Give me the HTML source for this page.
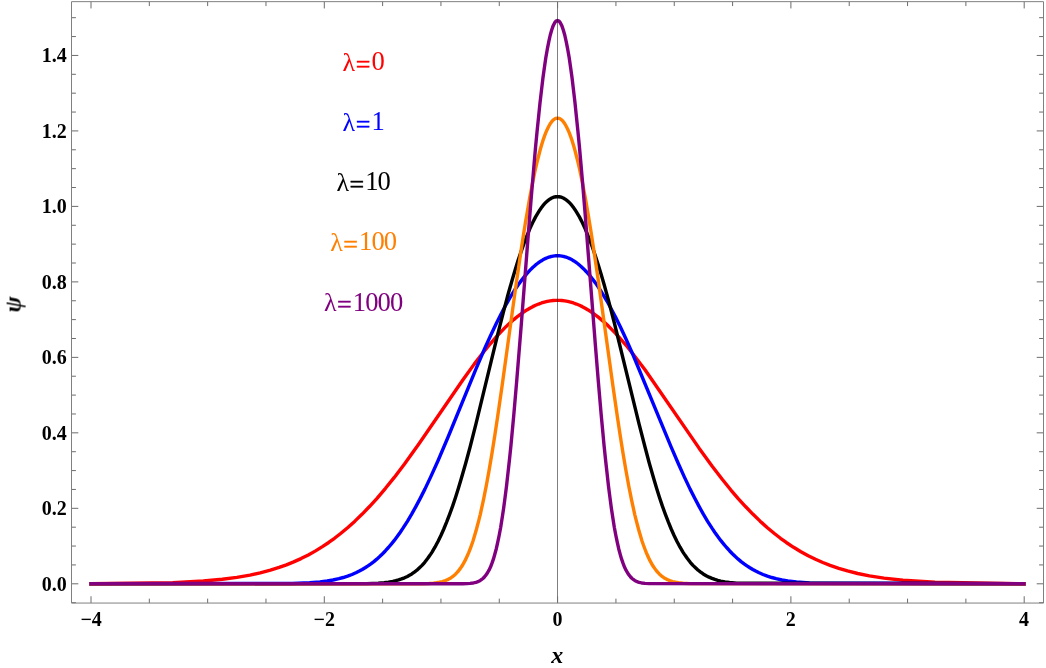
<!DOCTYPE html>
<html><head><meta charset="utf-8"><title>psi(x) for anharmonic oscillator</title>
<style>
html,body{margin:0;padding:0;background:#fff;width:1046px;height:668px;overflow:hidden;font-family:"Liberation Serif",serif}
</style></head><body>
<svg width="1046" height="668" viewBox="0 0 1046 668" style="position:absolute;left:0;top:0;font-family:'Liberation Serif',serif">
<rect x="0" y="0" width="1046" height="668" fill="#ffffff"/>
<g>
<path d="M91.1,583.70 L172.7,582.58 L203.3,580.99 L222.3,579.25 L236.9,577.34 L250.0,575.05 L260.2,572.82 L270.4,570.13 L279.1,567.40 L286.4,564.80 L293.7,561.87 L301.0,558.59 L308.3,554.93 L315.6,550.87 L322.8,546.39 L328.7,542.48 L334.5,538.27 L340.3,533.77 L347.6,527.70 L354.9,521.14 L362.2,514.09 L369.5,506.55 L376.8,498.53 L385.5,488.28 L394.3,477.41 L404.5,464.00 L419.0,443.74 L462.8,380.02 L474.4,363.87 L483.2,352.45 L490.5,343.52 L496.3,336.82 L500.7,332.09 L505.0,327.62 L509.4,323.45 L513.8,319.57 L518.1,316.02 L521.1,313.83 L524.0,311.80 L526.9,309.93 L529.8,308.21 L532.7,306.65 L535.6,305.26 L538.6,304.04 L541.5,302.99 L544.4,302.11 L547.3,301.41 L550.2,300.88 L553.1,300.52 L556.0,300.35 L559.0,300.35 L561.9,300.52 L564.8,300.88 L567.7,301.41 L570.6,302.11 L573.5,302.99 L576.4,304.04 L579.4,305.26 L582.3,306.65 L585.2,308.21 L588.1,309.93 L591.0,311.80 L593.9,313.83 L598.3,317.17 L602.7,320.83 L607.1,324.80 L611.4,329.08 L615.8,333.63 L621.6,340.12 L627.5,347.02 L634.7,356.18 L645.0,369.82 L698.9,447.88 L712.0,465.96 L722.2,479.26 L730.9,490.03 L738.2,498.53 L745.5,506.55 L752.8,514.09 L760.1,521.14 L767.4,527.70 L774.7,533.77 L780.5,538.27 L786.3,542.48 L793.6,547.32 L800.9,551.72 L808.2,555.70 L815.5,559.28 L822.8,562.49 L830.1,565.35 L838.8,568.36 L847.5,570.95 L857.7,573.50 L869.4,575.88 L884.0,578.18 L902.9,580.28 L935.0,582.30 L1023.9,583.70" fill="none" stroke="#ff0000" stroke-width="3.4" stroke-linecap="square" stroke-linejoin="round"/>
<path d="M91.1,583.80 L292.2,583.46 L309.7,582.75 L319.9,581.90 L327.2,580.97 L333.0,579.97 L338.9,578.69 L343.2,577.51 L347.6,576.11 L352.0,574.47 L356.4,572.55 L359.3,571.10 L362.2,569.52 L365.1,567.78 L368.0,565.88 L370.9,563.82 L373.9,561.58 L376.8,559.15 L379.7,556.54 L382.6,553.73 L385.5,550.72 L388.4,547.50 L391.3,544.07 L394.3,540.42 L397.2,536.55 L400.1,532.47 L403.0,528.17 L407.4,521.30 L411.8,513.94 L416.1,506.12 L420.5,497.83 L424.9,489.11 L430.7,476.87 L438.0,460.68 L448.2,436.74 L475.9,369.20 L484.6,348.78 L490.5,335.81 L496.3,323.50 L500.7,314.76 L505.0,306.50 L509.4,298.75 L512.3,293.89 L515.2,289.28 L518.1,284.94 L521.1,280.88 L524.0,277.10 L526.9,273.60 L529.8,270.41 L532.7,267.51 L535.6,264.93 L537.1,263.75 L538.6,262.65 L540.0,261.64 L541.5,260.70 L542.9,259.84 L544.4,259.06 L545.8,258.37 L547.3,257.75 L548.8,257.22 L550.2,256.76 L551.7,256.39 L553.1,256.11 L554.6,255.90 L556.0,255.78 L557.5,255.73 L559.0,255.78 L560.4,255.90 L561.9,256.11 L563.3,256.39 L564.8,256.76 L566.2,257.22 L567.7,257.75 L569.2,258.37 L570.6,259.06 L572.1,259.84 L573.5,260.70 L575.0,261.64 L576.4,262.65 L577.9,263.75 L580.8,266.18 L583.7,268.92 L586.6,271.97 L589.6,275.31 L592.5,278.95 L595.4,282.88 L598.3,287.08 L601.2,291.55 L604.1,296.29 L607.1,301.27 L611.4,309.19 L615.8,317.62 L620.2,326.51 L626.0,339.00 L633.3,355.48 L671.2,447.15 L678.5,463.99 L684.3,476.87 L690.1,489.11 L694.5,497.83 L698.9,506.12 L703.2,513.94 L707.6,521.30 L712.0,528.17 L714.9,532.47 L717.8,536.55 L720.7,540.42 L723.7,544.07 L726.6,547.50 L729.5,550.72 L732.4,553.73 L735.3,556.54 L738.2,559.15 L741.1,561.58 L744.1,563.82 L747.0,565.88 L749.9,567.78 L752.8,569.52 L755.7,571.10 L758.6,572.55 L763.0,574.47 L767.4,576.11 L771.8,577.51 L776.1,578.69 L782.0,579.97 L787.8,580.97 L796.5,582.05 L809.6,583.00 L1023.9,583.80" fill="none" stroke="#0000ff" stroke-width="3.4" stroke-linecap="square" stroke-linejoin="round"/>
<path d="M91.1,583.80 L366.6,583.59 L378.2,583.13 L384.1,582.65 L388.4,582.10 L392.8,581.35 L395.7,580.71 L398.6,579.92 L401.5,578.96 L404.5,577.82 L407.4,576.46 L410.3,574.86 L411.8,573.95 L413.2,572.97 L414.7,571.92 L416.1,570.78 L417.6,569.56 L419.0,568.26 L420.5,566.85 L422.0,565.36 L423.4,563.76 L424.9,562.05 L426.3,560.24 L427.8,558.32 L429.2,556.29 L430.7,554.13 L432.2,551.85 L433.6,549.45 L435.1,546.93 L436.5,544.27 L438.0,541.48 L440.9,535.51 L443.8,528.99 L446.7,521.92 L449.6,514.31 L452.6,506.16 L455.5,497.47 L458.4,488.27 L461.3,478.59 L465.7,463.22 L470.1,446.96 L475.9,424.15 L497.7,334.32 L503.6,311.36 L507.9,294.96 L512.3,279.45 L515.2,269.67 L518.1,260.38 L521.1,251.63 L524.0,243.44 L526.9,235.85 L528.4,232.29 L529.8,228.88 L531.3,225.63 L532.7,222.54 L534.2,219.62 L535.6,216.87 L537.1,214.29 L538.6,211.87 L540.0,209.63 L541.5,207.57 L542.9,205.67 L544.4,203.96 L545.8,202.42 L547.3,201.07 L548.8,199.89 L550.2,198.89 L551.7,198.07 L553.1,197.43 L554.6,196.98 L556.0,196.71 L557.5,196.61 L559.0,196.71 L560.4,196.98 L561.9,197.43 L563.3,198.07 L564.8,198.89 L566.2,199.89 L567.7,201.07 L569.2,202.42 L570.6,203.96 L572.1,205.67 L573.5,207.57 L575.0,209.63 L576.4,211.87 L577.9,214.29 L579.4,216.87 L580.8,219.62 L582.3,222.54 L583.7,225.63 L585.2,228.88 L586.6,232.29 L589.6,239.57 L592.5,247.47 L595.4,255.94 L598.3,264.96 L601.2,274.50 L604.1,284.51 L608.5,300.34 L614.3,322.71 L639.1,424.15 L645.0,446.96 L649.3,463.22 L653.7,478.59 L656.6,488.27 L659.5,497.47 L662.4,506.16 L665.4,514.31 L668.3,521.92 L671.2,528.99 L674.1,535.51 L677.0,541.48 L678.5,544.27 L679.9,546.93 L681.4,549.45 L682.8,551.85 L684.3,554.13 L685.8,556.29 L687.2,558.32 L688.7,560.24 L690.1,562.05 L691.6,563.76 L693.0,565.36 L694.5,566.85 L696.0,568.26 L697.4,569.56 L698.9,570.78 L700.3,571.92 L701.8,572.97 L703.2,573.95 L706.2,575.69 L709.1,577.17 L712.0,578.42 L714.9,579.46 L717.8,580.33 L720.7,581.05 L725.1,581.88 L729.5,582.49 L736.8,583.13 L1023.9,583.80" fill="none" stroke="#000000" stroke-width="3.4" stroke-linecap="square" stroke-linejoin="round"/>
<path d="M91.1,583.80 L422.0,583.69 L429.2,583.44 L433.6,583.12 L436.5,582.77 L439.4,582.28 L442.4,581.59 L443.8,581.15 L445.3,580.65 L446.7,580.05 L448.2,579.37 L449.6,578.59 L451.1,577.68 L452.6,576.66 L454.0,575.49 L455.5,574.16 L456.9,572.67 L458.4,571.00 L459.8,569.13 L461.3,567.04 L462.8,564.73 L464.2,562.17 L465.7,559.36 L467.1,556.27 L468.6,552.90 L470.1,549.23 L471.5,545.25 L473.0,540.95 L474.4,536.31 L475.9,531.34 L477.3,526.02 L478.8,520.35 L480.3,514.32 L481.7,507.95 L483.2,501.21 L484.6,494.13 L486.1,486.70 L489.0,470.84 L491.9,453.71 L494.8,435.45 L497.7,416.19 L502.1,385.84 L515.2,290.89 L519.6,260.45 L522.5,241.10 L525.4,222.72 L528.4,205.48 L529.8,197.34 L531.3,189.53 L532.7,182.07 L534.2,174.97 L535.6,168.25 L537.1,161.92 L538.6,155.99 L540.0,150.46 L541.5,145.35 L542.9,140.67 L544.4,136.41 L545.8,132.59 L547.3,129.21 L548.8,126.27 L550.2,123.77 L551.7,121.73 L553.1,120.14 L554.6,119.00 L556.0,118.32 L557.5,118.09 L559.0,118.32 L560.4,119.00 L561.9,120.14 L563.3,121.73 L564.8,123.77 L566.2,126.27 L567.7,129.21 L569.2,132.59 L570.6,136.41 L572.1,140.67 L573.5,145.35 L575.0,150.46 L576.4,155.99 L577.9,161.92 L579.4,168.25 L580.8,174.97 L582.3,182.07 L583.7,189.53 L585.2,197.34 L588.1,213.95 L591.0,231.78 L593.9,250.66 L598.3,280.59 L612.9,385.84 L617.3,416.19 L620.2,435.45 L623.1,453.71 L626.0,470.84 L628.9,486.70 L630.4,494.13 L631.8,501.21 L633.3,507.95 L634.7,514.32 L636.2,520.35 L637.7,526.02 L639.1,531.34 L640.6,536.31 L642.0,540.95 L643.5,545.25 L645.0,549.23 L646.4,552.90 L647.9,556.27 L649.3,559.36 L650.8,562.17 L652.2,564.73 L653.7,567.04 L655.2,569.13 L656.6,571.00 L658.1,572.67 L659.5,574.16 L661.0,575.49 L662.4,576.66 L663.9,577.68 L665.4,578.59 L666.8,579.37 L668.3,580.05 L669.7,580.65 L671.2,581.15 L672.6,581.59 L675.6,582.28 L678.5,582.77 L682.8,583.25 L690.1,583.62 L1023.9,583.80" fill="none" stroke="#ff8000" stroke-width="3.4" stroke-linecap="square" stroke-linejoin="round"/>
<path d="M91.1,583.80 L462.8,583.73 L467.1,583.58 L470.1,583.37 L473.0,582.98 L474.4,582.69 L475.9,582.31 L477.3,581.83 L478.8,581.21 L480.3,580.43 L481.7,579.45 L483.2,578.23 L484.6,576.74 L486.1,574.93 L487.5,572.75 L489.0,570.14 L490.5,567.05 L491.9,563.42 L493.4,559.19 L494.8,554.32 L496.3,548.73 L497.7,542.38 L499.2,535.23 L500.7,527.23 L502.1,518.34 L503.6,508.55 L505.0,497.85 L506.5,486.21 L507.9,473.66 L509.4,460.22 L510.9,445.92 L512.3,430.79 L513.8,414.91 L516.7,381.15 L521.1,326.77 L528.4,232.98 L531.3,196.83 L534.2,162.66 L535.6,146.54 L537.1,131.16 L538.6,116.58 L540.0,102.88 L541.5,90.12 L542.9,78.32 L544.4,67.54 L545.8,57.82 L547.3,49.18 L548.8,41.64 L550.2,35.24 L551.7,29.97 L553.1,25.87 L554.6,22.93 L556.0,21.17 L557.5,20.57 L559.0,21.17 L560.4,22.93 L561.9,25.87 L563.3,29.97 L564.8,35.24 L566.2,41.64 L567.7,49.18 L569.2,57.82 L570.6,67.54 L572.1,78.32 L573.5,90.12 L575.0,102.88 L576.4,116.58 L577.9,131.16 L579.4,146.54 L582.3,179.46 L585.2,214.71 L595.4,345.27 L598.3,381.15 L601.2,414.91 L602.7,430.79 L604.1,445.92 L605.6,460.22 L607.1,473.66 L608.5,486.21 L610.0,497.85 L611.4,508.55 L612.9,518.34 L614.3,527.23 L615.8,535.23 L617.3,542.38 L618.7,548.73 L620.2,554.32 L621.6,559.19 L623.1,563.42 L624.5,567.05 L626.0,570.14 L627.5,572.75 L628.9,574.93 L630.4,576.74 L631.8,578.23 L633.3,579.45 L634.7,580.43 L636.2,581.21 L637.7,581.83 L639.1,582.31 L640.6,582.69 L642.0,582.98 L645.0,583.37 L649.3,583.64 L1023.9,583.80" fill="none" stroke="#800080" stroke-width="3.4" stroke-linecap="square" stroke-linejoin="round"/>
</g>
<path d="M557.5,1.65 V603.05" stroke="#000000" stroke-opacity="0.5" stroke-width="1" fill="none"/>
<path d="M91.00,603.05 v-6.8 M91.00,1.65 v6.8 M149.32,603.05 v-4.4 M149.32,1.65 v4.4 M207.65,603.05 v-4.4 M207.65,1.65 v4.4 M265.98,603.05 v-4.4 M265.98,1.65 v4.4 M324.30,603.05 v-6.8 M324.30,1.65 v6.8 M382.62,603.05 v-4.4 M382.62,1.65 v4.4 M440.95,603.05 v-4.4 M440.95,1.65 v4.4 M499.28,603.05 v-4.4 M499.28,1.65 v4.4 M557.60,603.05 v-6.8 M557.60,1.65 v6.8 M615.93,603.05 v-4.4 M615.93,1.65 v4.4 M674.25,603.05 v-4.4 M674.25,1.65 v4.4 M732.58,603.05 v-4.4 M732.58,1.65 v4.4 M790.90,603.05 v-6.8 M790.90,1.65 v6.8 M849.23,603.05 v-4.4 M849.23,1.65 v4.4 M907.55,603.05 v-4.4 M907.55,1.65 v4.4 M965.88,603.05 v-4.4 M965.88,1.65 v4.4 M1024.20,603.05 v-6.8 M1024.20,1.65 v6.8 M71.5,602.67 h4.4 M1043.5,602.67 h-4.4 M71.5,583.80 h6.8 M1043.5,583.80 h-6.8 M71.5,564.93 h4.4 M1043.5,564.93 h-4.4 M71.5,546.06 h4.4 M1043.5,546.06 h-4.4 M71.5,527.19 h4.4 M1043.5,527.19 h-4.4 M71.5,508.32 h6.8 M1043.5,508.32 h-6.8 M71.5,489.45 h4.4 M1043.5,489.45 h-4.4 M71.5,470.58 h4.4 M1043.5,470.58 h-4.4 M71.5,451.71 h4.4 M1043.5,451.71 h-4.4 M71.5,432.84 h6.8 M1043.5,432.84 h-6.8 M71.5,413.97 h4.4 M1043.5,413.97 h-4.4 M71.5,395.10 h4.4 M1043.5,395.10 h-4.4 M71.5,376.23 h4.4 M1043.5,376.23 h-4.4 M71.5,357.36 h6.8 M1043.5,357.36 h-6.8 M71.5,338.49 h4.4 M1043.5,338.49 h-4.4 M71.5,319.62 h4.4 M1043.5,319.62 h-4.4 M71.5,300.75 h4.4 M1043.5,300.75 h-4.4 M71.5,281.88 h6.8 M1043.5,281.88 h-6.8 M71.5,263.01 h4.4 M1043.5,263.01 h-4.4 M71.5,244.14 h4.4 M1043.5,244.14 h-4.4 M71.5,225.27 h4.4 M1043.5,225.27 h-4.4 M71.5,206.40 h6.8 M1043.5,206.40 h-6.8 M71.5,187.53 h4.4 M1043.5,187.53 h-4.4 M71.5,168.66 h4.4 M1043.5,168.66 h-4.4 M71.5,149.79 h4.4 M1043.5,149.79 h-4.4 M71.5,130.92 h6.8 M1043.5,130.92 h-6.8 M71.5,112.05 h4.4 M1043.5,112.05 h-4.4 M71.5,93.18 h4.4 M1043.5,93.18 h-4.4 M71.5,74.31 h4.4 M1043.5,74.31 h-4.4 M71.5,55.44 h6.8 M1043.5,55.44 h-6.8 M71.5,36.57 h4.4 M1043.5,36.57 h-4.4 M71.5,17.70 h4.4 M1043.5,17.70 h-4.4" stroke="#6c6c6c" stroke-width="1" fill="none"/>
<path d="M71.5,1.65 H1043.5 V603.05 H71.5 Z" stroke="#808080" stroke-width="1" fill="none"/>
<g fill="#000000" opacity="0.999">
<text x="66.8" y="590.65" text-anchor="end" font-size="20" font-weight="bold">0.0</text>
<text x="66.8" y="515.17" text-anchor="end" font-size="20" font-weight="bold">0.2</text>
<text x="66.8" y="439.69" text-anchor="end" font-size="20" font-weight="bold">0.4</text>
<text x="66.8" y="364.21" text-anchor="end" font-size="20" font-weight="bold">0.6</text>
<text x="66.8" y="288.73" text-anchor="end" font-size="20" font-weight="bold">0.8</text>
<text x="66.8" y="213.25" text-anchor="end" font-size="20" font-weight="bold">1.0</text>
<text x="66.8" y="137.77" text-anchor="end" font-size="20" font-weight="bold">1.2</text>
<text x="66.8" y="62.29" text-anchor="end" font-size="20" font-weight="bold">1.4</text>
<text x="91.10" y="626.3" text-anchor="middle" font-size="20" font-weight="bold">−4</text>
<text x="324.30" y="626.3" text-anchor="middle" font-size="20" font-weight="bold">−2</text>
<text x="557.50" y="626.3" text-anchor="middle" font-size="20" font-weight="bold">0</text>
<text x="790.70" y="626.3" text-anchor="middle" font-size="20" font-weight="bold">2</text>
<text x="1023.90" y="626.3" text-anchor="middle" font-size="20" font-weight="bold">4</text>
<text x="363.2" y="70.2" text-anchor="middle" font-size="26" fill="#ff0000"><tspan dy="0.6">λ</tspan><tspan dx="0.5" dy="2.1" stroke="#ff0000" stroke-width="0.45">=</tspan><tspan dx="1.0" dy="-2.6" font-size="26.6" letter-spacing="-0.9">0</tspan></text>
<text x="363.2" y="129.9" text-anchor="middle" font-size="26" fill="#0000ff"><tspan dy="0.6">λ</tspan><tspan dx="0.5" dy="2.1" stroke="#0000ff" stroke-width="0.45">=</tspan><tspan dx="1.0" dy="-2.6" font-size="26.6" letter-spacing="-0.9">1</tspan></text>
<text x="363.2" y="190.0" text-anchor="middle" font-size="26" fill="#000000"><tspan dy="0.6">λ</tspan><tspan dx="0.5" dy="2.1" stroke="#000000" stroke-width="0.45">=</tspan><tspan dx="1.0" dy="-2.6" font-size="26.6" letter-spacing="-0.9">10</tspan></text>
<text x="363.2" y="250.2" text-anchor="middle" font-size="26" fill="#ff8000"><tspan dy="0.6">λ</tspan><tspan dx="0.5" dy="2.1" stroke="#ff8000" stroke-width="0.45">=</tspan><tspan dx="1.0" dy="-2.6" font-size="26.6" letter-spacing="-0.9">100</tspan></text>
<text x="363.2" y="310.4" text-anchor="middle" font-size="26" fill="#800080"><tspan dy="0.6">λ</tspan><tspan dx="0.5" dy="2.1" stroke="#800080" stroke-width="0.45">=</tspan><tspan dx="1.0" dy="-2.6" font-size="26.6" letter-spacing="-0.9">1000</tspan></text>
<text x="557.3" y="663.2" text-anchor="middle" font-size="24" font-weight="bold" font-style="italic">x</text>
<text transform="translate(20.6,304.4) rotate(-90)" text-anchor="middle" font-size="24" font-weight="bold" font-style="italic">ψ</text>
</g>
</svg>
</body></html>
